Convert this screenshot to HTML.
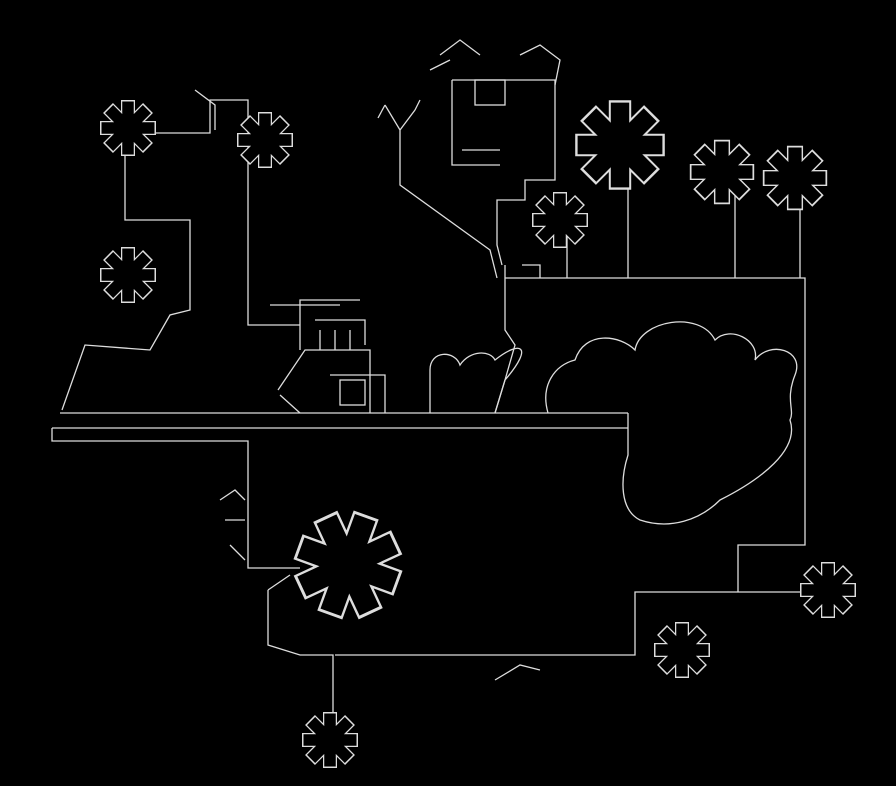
<!DOCTYPE html>
<html><head><style>html,body{margin:0;padding:0;background:#000;width:896px;height:786px;overflow:hidden}</style></head>
<body>
<svg width="896" height="786" viewBox="0 0 896 786" xmlns="http://www.w3.org/2000/svg">
<defs>
<g id="fl">
 <path d="M0 -28V28M-28 0H28M-20 -20L20 20M-20 20L20 -20" stroke="#ddd" stroke-width="14" fill="none"/>
 <path d="M0 -26.5V26.5M-26.5 0H26.5M-18.9 -18.9L18.9 18.9M-18.9 18.9L18.9 -18.9" stroke="#000" stroke-width="11.5" fill="none"/>
</g>
</defs>
<g fill="none" stroke="#ddd" stroke-width="1.3">
<path d="M60 413H628M52 428H628M52 428V441H248V568H300"/>
<path d="M125 140V220H190V310L170 315L150 350L85 345L62 410"/>
<path d="M125 133H210V100H248V325H300"/>
<path d="M195 90L215 105V130"/>
<path d="M505 278H805V545H738V592H800M738 592H635V655H335"/>
<path d="M505 265V330L515 345L505 380L495 413"/>
<path d="M268 590V645L300 655H333V720"/>
<path d="M268 590L290 575"/>
<path d="M628 150V278M735 190V278M800 200V278M567 230V278M522 265H540V278"/>
<path d="M400 130V185L490 250L497 278M400 130L385 105M400 130L415 110M385 105L378 118M415 110L420 100"/>
<path d="M452 80H555V180H525V200H497V245L502 265M452 80V165H500M462 150H500"/>
<path d="M440 55L460 40L480 55M520 55L540 45L560 60L555 85M430 70L450 60"/>
<rect x="475" y="80" width="30" height="25"/>
<path d="M278 390L305 350H370V413M330 375H385V413M280 395L300 413M300 350V300H360M270 305H340"/>
<path d="M315 320H365V345M320 330V350M335 330V350M350 330V350"/>
<rect x="340" y="380" width="25" height="25"/>
<path d="M430 413V370C430 350 455 350 460 365C470 350 490 350 495 360C520 340 535 345 505 380L495 413"/>
<path d="M548 413C540 385 555 365 575 360C585 330 620 335 635 350C640 320 700 310 715 340C730 325 760 340 755 360C770 340 805 350 795 375C785 400 795 410 790 420C800 450 760 480 720 500C700 520 670 530 640 520C620 510 620 480 628 455V413"/>
<path d="M220 500L235 490L245 500M225 520H245M230 545L245 560"/>
<path d="M495 680L520 665L540 670"/>
</g>
<use href="#fl" x="128" y="128"/>
<use href="#fl" x="265" y="140"/>
<use href="#fl" x="128" y="275"/>
<g transform="translate(620,145) scale(1.6)"><use href="#fl"/></g>
<use href="#fl" x="560" y="220"/>
<g transform="translate(722,172) scale(1.15)"><use href="#fl"/></g>
<g transform="translate(795,178) scale(1.15)"><use href="#fl"/></g>
<g transform="translate(348,565) scale(1.9) rotate(20)"><use href="#fl"/></g>
<use href="#fl" x="828" y="590"/>
<use href="#fl" x="682" y="650"/>
<use href="#fl" x="330" y="740"/>
</svg>
</body></html>
